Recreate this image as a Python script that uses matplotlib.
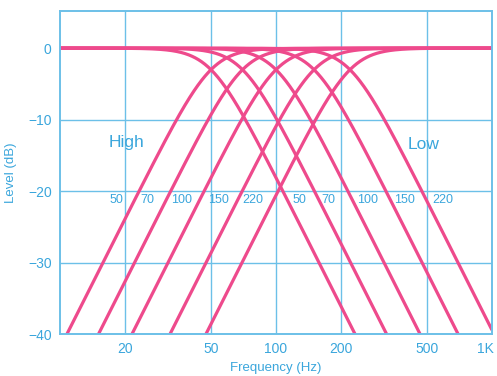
import numpy as np
from matplotlib import pyplot as plt
from matplotlib.transforms import ScaledTranslation

# crossover settings (Hz) for the high-pass and low-pass sections
high_cutoffs = [50, 70, 100, 150, 220]
low_cutoffs = [50, 70, 100, 150, 220]
order = 3  # 18 dB/oct slopes

x_ticks = [20, 50, 100, 200, 500, 1000]
x_tick_labels = ["20", "50", "100", "200", "500", "1K"]
y_ticks = [0, -10, -20, -30, -40]
y_tick_labels = ["0", "\u221210", "\u221220", "\u221230", "\u221240"]

# where the cutoff numbers are written along the -20 dB line
high_label_x = [18.2, 25.5, 36.5, 54, 78.5]
low_label_x = [128, 174, 264, 395, 593]

blue = "#3aa6dc"
grid_blue = "#6cc0e8"
pink = "#ee4a8c"

plt.rcParams["font.family"] = ["Liberation Sans", "DejaVu Sans"]

fig = plt.figure(figsize=(4.97, 3.76), dpi=100)
ax = fig.add_axes([0.1207, 0.1117, 0.8693, 0.859])

f = np.logspace(1, 3, 800)
for fc in high_cutoffs:
    level = -10 * np.log10(1 + (fc / f) ** (2 * order))
    ax.plot(f, level, color=pink, lw=2.3, solid_capstyle="butt")
for fc in low_cutoffs:
    level = -10 * np.log10(1 + (f / fc) ** (2 * order))
    ax.plot(f, level, color=pink, lw=2.3, solid_capstyle="butt")

ax.set_xscale("log")
ax.set_xlim(10, 1000)
ax.set_ylim(-40, 5.2)
ax.set_xticks(x_ticks)
ax.set_xticklabels(x_tick_labels)
ax.xaxis.set_minor_locator(plt.NullLocator())
ax.set_yticks(y_ticks)
ax.set_yticklabels(y_tick_labels)
ax.tick_params(length=0, labelsize=10, labelcolor=blue, pad=6)
ax.grid(True, color=grid_blue, lw=1.0)
ax.set_axisbelow(True)
for s in ax.spines.values():
    s.set_color(grid_blue)
    s.set_linewidth(1.4)

# pull the "1K" label in a little so it stays on the page
last = ax.get_xticklabels()[-1]
last.set_transform(last.get_transform() + ScaledTranslation(-5 / 72, 0, fig.dpi_scale_trans))

ax.set_xlabel("Frequency (Hz)", color=blue, fontsize=9.5, labelpad=4)
ax.set_ylabel("Level (dB)", color=blue, fontsize=9.5, labelpad=8)

ax.text(20.4, -13.2, "High", color=blue, fontsize=12.5, ha="center", va="center")
ax.text(484, -13.5, "Low", color=blue, fontsize=12.5, ha="center", va="center")

for xp, fc in zip(high_label_x, high_cutoffs):
    ax.text(xp, -21.2, str(fc), color=blue, fontsize=9, ha="center", va="center")
for xp, fc in zip(low_label_x, low_cutoffs):
    ax.text(xp, -21.2, str(fc), color=blue, fontsize=9, ha="center", va="center")

fig.savefig("out.png")
